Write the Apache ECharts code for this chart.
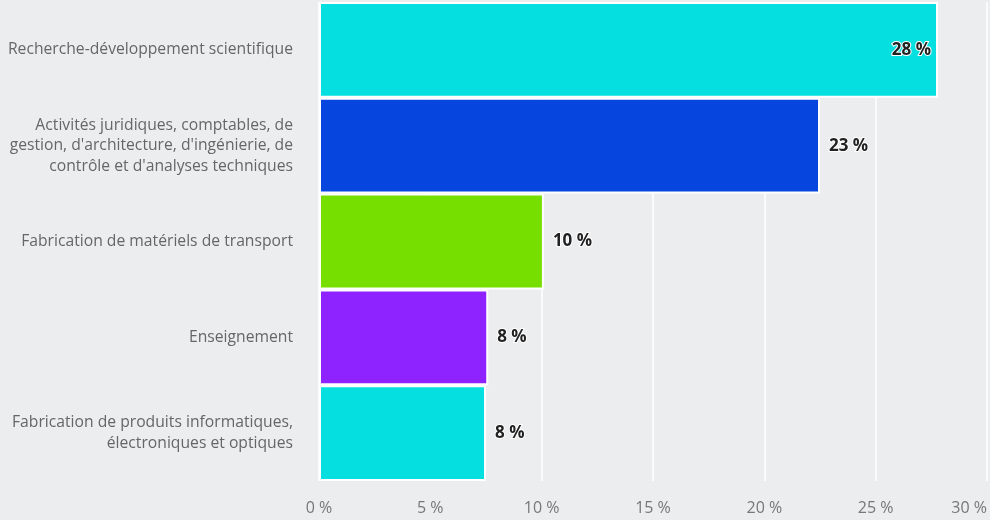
<!DOCTYPE html>
<html><head><meta charset="utf-8">
<script src="https://cdn.jsdelivr.net/npm/echarts@6/dist/echarts.min.js"></script>
<style>html,body{margin:0;padding:0;background:#ecedef;}#c{width:990px;height:520px;}</style>
</head><body><div id="c"></div>
<script>
const categories = [
  "Recherche-développement scientifique",
  "Activités juridiques, comptables, de\ngestion, d'architecture, d'ingénierie, de\ncontrôle et d'analyses techniques",
  "Fabrication de matériels de transport",
  "Enseignement",
  "Fabrication de produits informatiques,\nélectroniques et optiques"
];
const values = [27.8, 22.5, 10.1, 7.6, 7.5];
const colors = ["#06dfe0", "#0645de", "#77df00", "#8f23ff", "#06dfe0"];
const xTicks = { min: 0, max: 30, interval: 5 };

const chart = echarts.init(document.getElementById('c'));
chart.setOption({
  backgroundColor: '#ecedef',
  animation: false,
  grid: { left: 319, right: 3, top: 2, bottom: 39, containLabel: false },
  xAxis: {
    type: 'value', min: xTicks.min, max: xTicks.max, interval: xTicks.interval,
    axisLine: { show: false }, axisTick: { show: false },
    splitLine: { lineStyle: { color: '#ffffff', width: 1.5 } },
    axisLabel: { formatter: '{value} %', color: '#777', fontSize: 16, fontFamily: 'Open Sans', margin: 19, alignMaxLabel: 'right' }
  },
  yAxis: {
    type: 'category', data: categories, inverse: true,
    axisLine: { show: false }, axisTick: { show: false },
    axisLabel: { color: '#666', fontSize: 15.7, fontFamily: 'Open Sans', margin: 26, lineHeight: 20.5, align: 'right' }
  },
  series: [{
    type: 'bar',
    barCategoryGap: '0%',
    data: values.map((v, i) => ({
      value: v,
      itemStyle: { color: colors[i] },
      label: i === 0 ? { position: 'insideRight', distance: 7 } : {}
    })),
    itemStyle: { borderColor: '#ffffff', borderWidth: 2 },
    label: {
      show: true, position: 'right', distance: 9,
      formatter: p => Math.round(p.value) + ' %',
      color: '#222', fontWeight: 'bold', fontSize: 17, fontFamily: 'Open Sans',
      textBorderColor: '#ffffff', textBorderWidth: 2
    }
  }]
});
</script></body></html>
